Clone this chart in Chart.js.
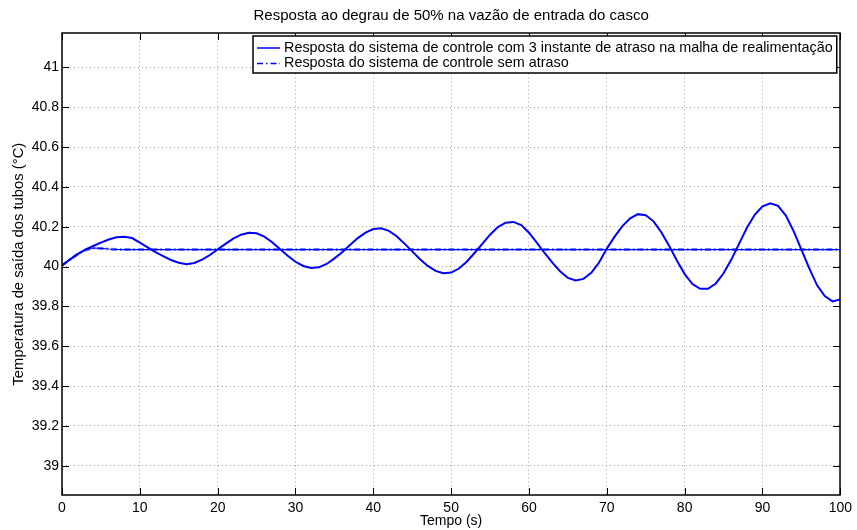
<!DOCTYPE html>
<html><head><meta charset="utf-8">
<script src="https://cdn.jsdelivr.net/npm/chart.js@4/dist/chart.umd.min.js"></script>
<style>html,body{margin:0;padding:0;background:#fff}#wrap{width:857px;height:530px}</style>
</head><body><div id="wrap"><canvas id="c" width="857" height="530"></canvas></div>
<script>
const chartTitle = 'Resposta ao degrau de 50% na vazão de entrada do casco';
const xAxisLabel = 'Tempo (s)';
const yAxisLabel = 'Temperatura de saída dos tubos (°C)';
const seriesNames = ['Resposta do sistema de controle com 3 instante de atraso na malha de realimentação',
                     'Resposta do sistema de controle sem atraso'];
const timeAtraso = [0,1,2,3,4,5,6,7,8,9,10,11,12,13,14,15,16,17,18,19,20,21,22,23,24,25,26,27,28,29,30,
  31,32,33,34,35,36,37,38,39,40,41,42,43,44,45,46,47,48,49,50,51,52,53,54,55,56,57,58,59,60,
  61,62,63,64,65,66,67,68,69,70,71,72,73,74,75,76,77,78,79,80,81,82,83,84,85,86,87,88,89,90,
  91,92,93,94,95,96,97,98,99,100];
const tempAtraso = [40.005,40.035,40.062,40.085,40.103,40.120,40.136,40.147,40.150,40.143,40.120,
  40.096,40.072,40.052,40.033,40.019,40.012,40.018,40.035,40.058,40.086,
  40.114,40.140,40.160,40.170,40.167,40.150,40.122,40.088,40.054,40.024,
  40.003,39.993,39.996,40.013,40.041,40.072,40.108,40.143,40.170,40.188,
  40.192,40.179,40.152,40.115,40.076,40.037,40.003,39.978,39.966,39.970,
  39.990,40.024,40.068,40.114,40.160,40.198,40.220,40.224,40.208,40.170,
  40.120,40.068,40.020,39.976,39.943,39.930,39.938,39.968,40.020,40.090,
  40.150,40.203,40.242,40.263,40.258,40.227,40.172,40.105,40.030,39.962,
  39.912,39.888,39.888,39.915,39.966,40.035,40.115,40.195,40.260,40.302,
  40.318,40.305,40.256,40.178,40.085,39.992,39.907,39.852,39.825,39.835];
const timeSemAtraso = [0,1,2,3,4,5,6,7,8,100];
const tempSemAtraso = [40.005,40.035,40.062,40.083,40.093,40.091,40.088,40.086,40.085,40.085];
const xTicks = [0,10,20,30,40,50,60,70,80,90,100];
const yTicks = [39,39.2,39.4,39.6,39.8,40,40.2,40.4,40.6,40.8,41];
const yRange = [38.853, 41.171];
const xRange = [0, 100];

const FONT = "'Liberation Sans', Arial, Helvetica, sans-serif";
const toPts = (xs, ys) => xs.map((x, i) => ({x, y: ys[i]}));

const framePlugin = {
  id: 'matlabFrame',
  afterDatasetsDraw(chart) {
    const {ctx, chartArea: a, scales} = chart;
    ctx.save();
    ctx.strokeStyle = '#000';
    ctx.lineWidth = 1.5;
    const L = Math.round(a.left), R = Math.round(a.right), T = Math.round(a.top), B = Math.round(a.bottom);
    ctx.strokeRect(L, T, R - L, B - T);
    ctx.lineWidth = 1;
    const tl = 7;
    ctx.beginPath();
    xTicks.forEach(v => {
      const px = Math.round(scales.x.getPixelForValue(v)) + 0.5;
      ctx.moveTo(px, B); ctx.lineTo(px, B - tl);
      ctx.moveTo(px, T); ctx.lineTo(px, T + tl);
    });
    yTicks.forEach(v => {
      const py = Math.round(scales.y.getPixelForValue(v)) + 0.5;
      ctx.moveTo(L, py); ctx.lineTo(L + tl, py);
      ctx.moveTo(R, py); ctx.lineTo(R - tl, py);
    });
    ctx.stroke();

    // legend
    const items = chart.data.datasets.filter(d => d.inLegend);
    ctx.font = '14.4px ' + FONT;
    const textW = Math.max(...items.map(d => ctx.measureText(d.label).width));
    const rowH = 15.5;
    const bw = 4 + 23 + 4 + textW + 4;
    const bh = 12 + rowH * (items.length - 1) + 9.5;
    const bx = Math.round(a.right - 4 - bw);
    const by = Math.round(a.top + 3);
    ctx.fillStyle = '#fff';
    ctx.fillRect(bx, by, bw, bh);
    ctx.lineWidth = 1.5;
    ctx.strokeStyle = '#000';
    ctx.strokeRect(bx, by, bw, bh);
    items.forEach((d, i) => {
      const cy = by + 12 + i * rowH;
      ctx.save();
      ctx.strokeStyle = d.legendColor;
      ctx.lineWidth = 1.5;
      ctx.setLineDash(d.legendDash || []);
      ctx.beginPath();
      ctx.moveTo(bx + 4, cy); ctx.lineTo(bx + 27, cy);
      ctx.stroke();
      ctx.restore();
      ctx.fillStyle = '#000';
      ctx.textBaseline = 'middle';
      ctx.textAlign = 'left';
      ctx.fillText(d.label, bx + 31, cy);
    });
    ctx.restore();
  }
};

new Chart(document.getElementById('c'), {
  type: 'line',
  data: {
    datasets: [
      {label: seriesNames[0], inLegend: true, legendColor: '#0000ff', legendDash: [],
       data: toPts(timeAtraso, tempAtraso), borderColor: '#0000ff', borderWidth: 2,
       pointRadius: 0, tension: 0, order: 0},
      {label: seriesNames[1], inLegend: true, legendColor: '#0000ff', legendDash: [6,3,1.5,3],
       data: toPts(timeSemAtraso, tempSemAtraso), borderColor: 'rgba(40,80,255,0.7)', borderWidth: 3,
       borderDash: [6,3,1.5,3], pointRadius: 0, tension: 0, order: 2},
      {label: '', inLegend: false,
       data: toPts(timeSemAtraso, tempSemAtraso), borderColor: '#0000ff', borderWidth: 1.2,
       pointRadius: 0, tension: 0, order: 1}
    ]
  },
  options: {
    responsive: false, animation: false, devicePixelRatio: 1,
    layout: {padding: {left: 0, right: 15, top: 0, bottom: 0}},
    plugins: {
      legend: {display: false},
      tooltip: {enabled: false},
      title: {display: true, fullSize: false, text: chartTitle, color: '#000',
              font: {family: FONT, size: 15, weight: 'normal'}, padding: {top: 7, bottom: 8.3}}
    },
    scales: {
      x: {type: 'linear', min: xRange[0], max: xRange[1],
          afterBuildTicks: s => { s.ticks = xTicks.map(v => ({value: v})); },
          afterFit: s => { s.height = 35; },
          grid: {color: '#a0a0a0', lineWidth: 1, drawTicks: false},
          border: {display: false, dash: [1, 3]},
          ticks: {color: '#000', font: {family: FONT, size: 14}, padding: 5, maxRotation: 0, autoSkip: false},
          title: {display: true, text: xAxisLabel, color: '#000', font: {family: FONT, size: 14},
                  padding: {top: 0, bottom: 0.2}}},
      y: {type: 'linear', min: yRange[0], max: yRange[1],
          afterBuildTicks: s => { s.ticks = yTicks.map(v => ({value: v})); },
          afterFit: s => { s.width = 62; },
          grid: {color: '#a0a0a0', lineWidth: 1, drawTicks: false},
          border: {display: false, dash: [1, 3]},
          ticks: {color: '#000', font: {family: FONT, size: 14}, padding: 3,
                  callback: v => String(+(+v).toFixed(1))},
          title: {display: true, text: yAxisLabel, color: '#000', font: {family: FONT, size: 14.8},
                  padding: {top: 10.5, bottom: 0}}}
    }
  },
  plugins: [framePlugin]
});
</script></body></html>
